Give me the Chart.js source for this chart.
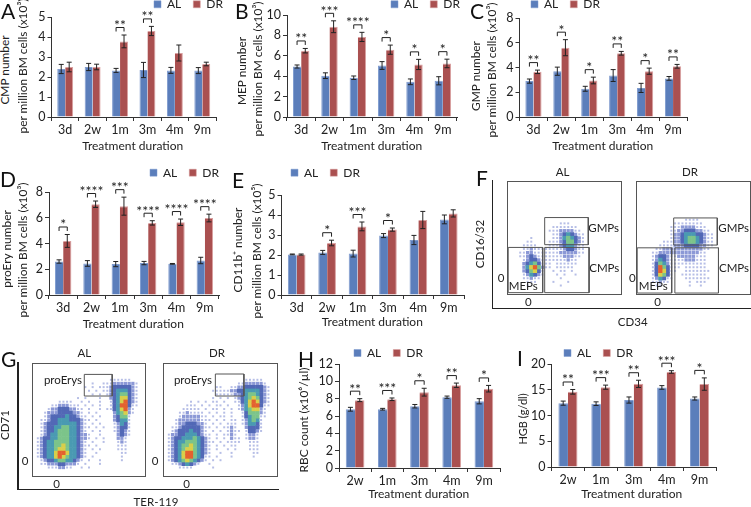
<!DOCTYPE html>
<html lang="en">
<head>
<meta charset="UTF-8" />
<title>Hematopoietic progenitors under DR</title>
<script src="https://cdn.jsdelivr.net/npm/chart.js"></script>
<style>
  html, body { margin: 0; padding: 0; background: #fff; }
  #page { position: relative; width: 751px; height: 507px; overflow: hidden; font-family: Lato, "Open Sans", sans-serif; color: #222; }
  #page canvas { position: absolute; }
  .lbl { position: absolute; transform: translate(-50%, -50%); font-size: 11.5px; white-space: nowrap; line-height: 1; }
  .rot { transform: translate(-50%, -50%) rotate(-90deg); }
  .letter { position: absolute; transform: translateY(-50%); font-size: 21px; line-height: 1; color: #111; }
  .ax { position: absolute; background: #222; }
  .frame { position: absolute; box-sizing: border-box; border: 1px solid #555; }
</style>
</head>
<body>
<div id="page"></div>
<script>
const times6 = ['3d', '2w', '1m', '3m', '4m', '9m'];
const times5 = ['2w', '1m', '3m', '4m', '9m'];

const cmpAL = [2.4, 2.5, 2.33, 2.35, 2.33, 2.32];
const cmpDR = [2.5, 2.5, 3.78, 4.3, 3.2, 2.65];
const cmpALErr = [0.23, 0.18, 0.1, 0.38, 0.15, 0.15];
const cmpDRErr = [0.24, 0.14, 0.32, 0.23, 0.4, 0.09];
const cmpSig = ['', '', '**', '**', '', ''];

const mepAL = [4.95, 4.05, 3.85, 5.05, 3.45, 3.55];
const mepDR = [6.5, 8.85, 7.85, 6.6, 5.15, 5.25];
const mepALErr = [0.15, 0.28, 0.17, 0.38, 0.28, 0.4];
const mepDRErr = [0.22, 0.58, 0.45, 0.45, 0.5, 0.42];
const mepSig = ['**', '***', '****', '*', '*', '*'];

const gmpAL = [2.9, 3.7, 2.28, 3.35, 2.35, 3.12];
const gmpDR = [3.65, 5.6, 2.95, 5.15, 3.7, 4.1];
const gmpALErr = [0.17, 0.33, 0.2, 0.48, 0.37, 0.15];
const gmpDRErr = [0.14, 0.65, 0.27, 0.15, 0.25, 0.15];
const gmpSig = ['**', '*', '*', '**', '*', '**'];

const eryAL = [2.6, 2.45, 2.4, 2.48, 2.42, 2.68];
const eryDR = [4.2, 7.05, 6.9, 5.6, 5.65, 5.98];
const eryALErr = [0.13, 0.22, 0.2, 0.13, 0.03, 0.25];
const eryDRErr = [0.5, 0.25, 0.7, 0.17, 0.25, 0.3];
const erySig = ['*', '****', '***', '****', '****', '****'];

const cd11AL = [2.03, 2.13, 2.07, 2.97, 2.75, 3.78];
const cd11DR = [2.02, 2.6, 3.43, 3.27, 3.75, 4.08];
const cd11ALErr = [0.02, 0.1, 0.17, 0.1, 0.23, 0.22];
const cd11DRErr = [0.03, 0.14, 0.22, 0.08, 0.43, 0.18];
const cd11Sig = ['', '*', '***', '*', '', ''];

const rbcAL = [6.78, 6.78, 7.13, 8.17, 7.7];
const rbcDR = [7.83, 7.93, 8.75, 9.55, 9.15];
const rbcALErr = [0.22, 0.1, 0.2, 0.13, 0.3];
const rbcDRErr = [0.17, 0.15, 0.45, 0.25, 0.38];
const rbcSig = ['**', '***', '*', '**', '*'];

const hgbAL = [12.4, 12.3, 13.0, 15.45, 13.3];
const hgbDR = [14.6, 15.5, 16.15, 18.45, 16.1];
const hgbALErr = [0.4, 0.35, 0.6, 0.35, 0.3];
const hgbDRErr = [0.45, 0.4, 0.7, 0.25, 1.2];
const hgbSig = ['**', '***', '**', '***', '*'];

// flow plots: density, one digit per cell (0 empty .. 7 red)
const flowF_AL = [
  '', '', '', '', '', '', '', '', '', '',
  '0000000000000111',
  '000000000001111111',
  '00000000001112222110',
  '00000000000112343211',
  '00000100000112454321',
  '00001100001112355321',
  '00011110001112344211',
  '00011211111111233211',
  '00112211111112222211',
  '00112321111111222110',
  '00012332111111121100',
  '00023453111011111100',
  '00024675211011111000',
  '00023563100101101000',
  '00012432100010100100',
  '00011211000001000000',
  '00001110000100010000',
  '0000100000000100'
];
const flowF_DR = [
  '', '', '', '', '', '', '', '', '',
  '0000000000001111',
  '00000000011111111',
  '0000000011122221110',
  '00000000112233322110',
  '00000000122344433211',
  '00000000122345543211',
  '00000011122345543211',
  '00000111122233332211',
  '00001122222222222110',
  '00011222222222221100',
  '00012332112222211100',
  '00012432111122211100',
  '00013542111111111100',
  '00013753111011111100',
  '00013763110011111110',
  '00013653100111111100',
  '00012431100011111110',
  '00011211000001011100',
  '0000110000000100100'
];
const flowG_AL = [
  '', '', '',
  '000000000000000000001111110',
  '00000000000000010011122222210',
  '00000000000001010111233333210',
  '00000000000000101011234443210',
  '00000000000000010101234553210',
  '00000000000101000100234663210',
  '00000011110010100100134673210',
  '00001122211101010100134773110',
  '00012233322110100101134672100',
  '00122233332210101000024562100',
  '00123333433211010100023551000',
  '01123344433321101000023441000',
  '01233344444321010100012431000',
  '01233445544321101010012331000',
  '01233455544321010100012321000',
  '01234455544322100100002321000',
  '12334455544322101010002210000',
  '12344555544321010010001210000',
  '12344556544321101000001110000',
  '12344566544321010100001110000',
  '12344677644321001000000110000',
  '12344676544321010000000100000',
  '01233455443210100100000100000',
  '01122233222101000100000000000',
  '00011122110010100000000000000'
];
const flowG_DR = [
  '', '', '',
  '00000000000000000000011111000',
  '00000000000000000001122222100',
  '00000000000001100112233333210',
  '00000000000011111223344443210',
  '00000000000001111122345543210',
  '00000000000010101012345653210',
  '00000010101011010011346763210',
  '00000111010101101001246773110',
  '00001111101011010101245662100',
  '00011211110101010100135552100',
  '00012222211010110100134551100',
  '00122222211101010110124541000',
  '00122333221010101110124431000',
  '01123333321101011210023331000',
  '01233343321010101211013321000',
  '12233444321101011210012210000',
  '12334445432101010211012210000',
  '12344555432110101111001110000',
  '12345565432101010110001110000',
  '12345665432101001010001110000',
  '12346775432100100100000110000',
  '12346775431101000100000100000',
  '12345654321010100000000000000',
  '01123432100100000000000000000',
  '00011110000010000000000000000'
];
// gates as [x0, y0, x1, y1] in density cells
const gatesF_AL = [[9.5, 9.3, 20.5, 16.2], [9.5, 16.9, 20.7, 28.4], [0.3, 16.9, 9, 28.4]];
const gatesF_DR = [[9.5, 9.4, 20.5, 16.3], [9.8, 17, 20.8, 28.5], [0.3, 17, 9, 28.5]];
const gatesG_AL = [[13.3, 2.9, 20.4, 8.4]];
const gatesG_DR = [[13.2, 2.8, 20.4, 8.4]];

const AL_COLOR = '#5b7ebb';
const DR_COLOR = '#aa5050';
const densityColors = [null, 'rgba(110,125,205,.5)', 'rgba(100,118,200,.75)', '#5268b6', '#4a9ab2', '#7cc48a', '#d8cf4a', '#e4612f'];
const densityRadius = [0, 1.4, 2.3, 3, 3, 3, 3, 3];

const page = document.getElementById('page');

Chart.defaults.font.family = 'Lato, "Open Sans", sans-serif';
Chart.defaults.font.size = 12;
Chart.defaults.color = '#222';
Chart.defaults.animation = false;

const LEGEND_PAD = 12;
const LEGEND_FONT = 12;
const EXTRA_RIGHT = 34;

// chart.js has no free legend position, so move it after layout
const legendMover = {
  id: 'legendMover',
  afterLayout(chart, args, opts) {
    const lg = chart.legend;
    lg.left = opts.x - chart.canvas.offsetLeft - LEGEND_PAD;
    lg.right = 9999;
    lg.top = opts.y - chart.canvas.offsetTop - LEGEND_PAD - LEGEND_FONT / 2;
  }
};

const errorsAndStars = {
  id: 'errorsAndStars',
  afterDatasetsDraw(chart, args, opts) {
    const ctx = chart.ctx;
    const y = chart.scales.y;
    ctx.save();
    ctx.strokeStyle = '#222';
    ctx.fillStyle = '#222';
    ctx.lineWidth = 1;
    const centers = [];
    [0, 1].forEach(d => {
      const meta = chart.getDatasetMeta(d);
      const vals = chart.data.datasets[d].data;
      const errs = opts.errors[d];
      centers[d] = meta.data.map(b => b.x);
      meta.data.forEach((bar, i) => {
        const hi = y.getPixelForValue(vals[i] + errs[i]);
        const lo = y.getPixelForValue(vals[i] - errs[i]);
        ctx.beginPath();
        ctx.moveTo(bar.x, hi); ctx.lineTo(bar.x, lo);
        ctx.moveTo(bar.x - 2.5, hi); ctx.lineTo(bar.x + 2.5, hi);
        ctx.moveTo(bar.x - 2.5, lo); ctx.lineTo(bar.x + 2.5, lo);
        ctx.stroke();
      });
    });
    ctx.textAlign = 'center';
    ctx.textBaseline = 'alphabetic';
    ctx.font = '14px Lato, sans-serif';
    opts.sig.forEach((s, i) => {
      if (!s) return;
      const top = y.getPixelForValue(chart.data.datasets[1].data[i] + opts.errors[1][i]);
      const y0 = top - 3.5;
      const y1 = y0 - 4;
      ctx.beginPath();
      ctx.moveTo(centers[0][i], y0);
      ctx.lineTo(centers[0][i], y1);
      ctx.lineTo(centers[1][i], y1);
      ctx.lineTo(centers[1][i], y0);
      ctx.stroke();
      ctx.fillText(s, (centers[0][i] + centers[1][i]) / 2, y1 + 2.5);
    });
    ctx.restore();
  }
};

function barPanel(p) {
  const canvasLeft = Math.round(p.left - 32);
  const legendH = LEGEND_FONT + 2 * LEGEND_PAD;
  const xH = 37;
  const cv = document.createElement('canvas');
  cv.width = p.right + EXTRA_RIGHT - canvasLeft;
  cv.height = p.bottom - p.top + legendH + xH;
  cv.style.left = canvasLeft + 'px';
  cv.style.top = (p.top - legendH) + 'px';
  page.appendChild(cv);
  new Chart(cv, {
    type: 'bar',
    data: {
      labels: p.labels,
      datasets: [
        { label: 'AL', data: p.al, backgroundColor: AL_COLOR, borderColor: '#7f9bce', borderWidth: { right: 0, left: 1, top: 1, bottom: 0 } },
        { label: 'DR', data: p.dr, backgroundColor: DR_COLOR, borderColor: '#d9a0a0', borderWidth: { right: 1, left: 0, top: 1, bottom: 0 } }
      ]
    },
    options: {
      responsive: false,
      layout: { padding: { right: EXTRA_RIGHT } },
      datasets: { bar: { categoryPercentage: 0.58, barPercentage: 1 } },
      scales: {
        x: {
          afterFit: s => { s.height = xH; },
          grid: { drawOnChartArea: false, offset: true, tickLength: 4, color: '#333' },
          border: { color: '#333' },
          ticks: { autoSkip: false, maxRotation: 0, padding: 1, color: '#222', font: { size: 12.5 } }
        },
        y: {
          min: 0, max: p.max,
          afterFit: s => { s.width = p.left - canvasLeft; },
          grid: { drawOnChartArea: false, tickLength: 4, color: '#333' },
          border: { color: '#333' },
          ticks: { stepSize: p.step, autoSkip: false, padding: 2, color: '#222', font: { size: 12.5 } }
        }
      },
      plugins: {
        title: { display: false },
        tooltip: { enabled: false },
        legend: {
          position: 'top', align: 'start',
          labels: { boxWidth: 7, boxHeight: 7, padding: LEGEND_PAD, color: '#222', font: { size: LEGEND_FONT } }
        },
        legendMover: { x: p.legendX, y: p.legendY },
        errorsAndStars: { errors: [p.alErr, p.drErr], sig: p.sig }
      }
    },
    plugins: [legendMover, errorsAndStars]
  });
}

barPanel({ labels: times6, al: cmpAL, dr: cmpDR, alErr: cmpALErr, drErr: cmpDRErr, sig: cmpSig,
  left: 51.5, right: 216, top: 19, bottom: 117.5, max: 5, step: 1, legendX: 154, legendY: 4.3 });
barPanel({ labels: times6, al: mepAL, dr: mepDR, alErr: mepALErr, drErr: mepDRErr, sig: mepSig,
  left: 287, right: 457, top: 17, bottom: 117.5, max: 10, step: 2, legendX: 391, legendY: 4.3 });
barPanel({ labels: times6, al: gmpAL, dr: gmpDR, alErr: gmpALErr, drErr: gmpDRErr, sig: gmpSig,
  left: 519.5, right: 687, top: 20, bottom: 117.5, max: 8, step: 2, legendX: 531, legendY: 4.3 });
barPanel({ labels: times6, al: eryAL, dr: eryDR, alErr: eryALErr, drErr: eryDRErr, sig: erySig,
  left: 49, right: 219, top: 194, bottom: 295.5, max: 8, step: 2, legendX: 150, legendY: 172.7 });
barPanel({ labels: times6, al: cd11AL, dr: cd11DR, alErr: cd11ALErr, drErr: cd11DRErr, sig: cd11Sig,
  left: 281.5, right: 464, top: 197, bottom: 295, max: 5, step: 1, legendX: 291, legendY: 172.7 });
barPanel({ labels: times5, al: rbcAL, dr: rbcDR, alErr: rbcALErr, drErr: rbcDRErr, sig: rbcSig,
  left: 339, right: 500, top: 365.5, bottom: 467.5, max: 12, step: 2, legendX: 354, legendY: 353 });
barPanel({ labels: times5, al: hgbAL, dr: hgbDR, alErr: hgbALErr, drErr: hgbDRErr, sig: hgbSig,
  left: 551.5, right: 716, top: 365.5, bottom: 466.5, max: 20, step: 5, legendX: 564, legendY: 353 });

const GRID_SIZE = 29;

function gridPoints(rows, level) {
  const pts = [];
  rows.forEach((row, r) => {
    [...row].forEach((ch, c) => {
      if (Number(ch) === level) pts.push({ x: c + 0.5, y: r + 0.5 });
    });
  });
  return pts;
}

function flowChart(x, y, w, h, sets, blur) {
  const cv = document.createElement('canvas');
  cv.width = w;
  cv.height = h;
  cv.style.left = x + 'px';
  cv.style.top = y + 'px';
  if (blur) cv.style.filter = 'blur(' + blur + 'px)';
  page.appendChild(cv);
  new Chart(cv, {
    type: 'scatter',
    data: { datasets: sets },
    options: {
      responsive: false,
      layout: { padding: 0 },
      scales: {
        x: { display: false, min: 0, max: GRID_SIZE },
        y: { display: false, min: 0, max: GRID_SIZE, reverse: true }
      },
      plugins: { legend: { display: false }, tooltip: { enabled: false } }
    }
  });
}

function flowPanel(rows, gates, x, y, w, h) {
  const density = [];
  for (let lv = 7; lv >= 1; lv--) {
    density.push({
      data: gridPoints(rows, lv),
      pointStyle: 'rect', pointRadius: densityRadius[lv], pointBorderWidth: 0,
      pointBackgroundColor: densityColors[lv], borderWidth: 0
    });
  }
  flowChart(x, y, w, h, density, 0.6);
  const lines = gates.map(g => ({
    data: [{ x: g[0], y: g[1] }, { x: g[2], y: g[1] }, { x: g[2], y: g[3] }, { x: g[0], y: g[3] }, { x: g[0], y: g[1] }],
    showLine: true, pointRadius: 0, borderColor: '#555', borderWidth: 1
  }));
  flowChart(x, y, w, h, lines, 0);
  const frame = document.createElement('div');
  frame.className = 'frame';
  frame.style.cssText = `left:${x}px;top:${y}px;width:${w}px;height:${h}px`;
  page.appendChild(frame);
}

flowPanel(flowF_AL, gatesF_AL, 507, 181, 115, 114);
flowPanel(flowF_DR, gatesF_DR, 636, 181, 115, 114);
flowPanel(flowG_AL, gatesG_AL, 32, 363, 114, 114);
flowPanel(flowG_DR, gatesG_DR, 163, 363, 115, 114);

// axis titles and flow labels, plain page text
function label(text, x, y, cls, size) {
  const el = document.createElement('div');
  el.className = cls || 'lbl';
  el.textContent = text;
  el.style.left = x + 'px';
  el.style.top = y + 'px';
  if (size) el.style.fontSize = size + 'px';
  page.appendChild(el);
}
function axisLine(x, y, w, h) {
  const el = document.createElement('div');
  el.className = 'ax';
  el.style.cssText = `left:${x}px;top:${y}px;width:${w}px;height:${h}px`;
  page.appendChild(el);
}

[[132.7, 145.7], [371.7, 145.7], [602.7, 145.7], [133.3, 323.7], [372.3, 322.3], [418.7, 494.3], [631.7, 494.3]]
  .forEach(t => label('Treatment duration', t[0], t[1], 'lbl', 12));

[['CMP number', 4.7, 70], ['per million  BM cells (x10³)', 23, 66], ['MEP number', 241.7, 71], ['per million  BM cells (x10³)', 258.3, 69],
 ['GMP number', 476, 76], ['per million BM cells (x10³)', 492.3, 70], ['proEry number', 6.7, 249], ['per million BM cells (x10³)', 23.3, 250],
 ['CD11b⁺ number', 238.3, 250], ['per million BM cells (x10⁵)', 256.7, 251], ['RBC count (x10⁶/µl)', 304, 420], ['HGB (g/dl)', 521.7, 419]]
  .forEach(t => label(t[0], t[1], t[2], 'lbl rot', t[0].startsWith('HGB') ? 11 : 11.9));

axisLine(491.5, 180, 1.5, 128.5);
axisLine(491.5, 307.5, 259.5, 1.5);
axisLine(17, 361.5, 1.5, 128);
axisLine(17, 488.5, 262, 1.5);

[['AL', 562.7, 172], ['DR', 690, 172], ['CD34', 632.7, 321.7], ['AL', 84.3, 353.3], ['DR', 217, 353.3],
 ['0', 501, 278.3], ['0', 528.3, 302.3], ['0', 632.3, 278.3], ['0', 657.7, 302.3],
 ['proErys', 63, 380], ['proErys', 193, 380], ['0', 25, 461], ['0', 56.7, 484], ['0', 155, 461], ['0', 186.7, 484],
 ['TER-119', 156, 502], ['GMPs', 603.7, 227.7], ['CMPs', 604.3, 268.3], ['MEPs', 523.3, 286],
 ['GMPs', 733.7, 227.7], ['CMPs', 734, 268.3], ['MEPs', 653.3, 286]].forEach(t => label(t[0], t[1], t[2]));
label('CD16/32', 480, 244, 'lbl rot');
label('CD71', 4.5, 425, 'lbl rot');

[['A', 1, 10], ['B', 235, 10], ['C', 470, 10], ['D', 0, 178], ['E', 232, 179], ['F', 476, 177],
 ['G', 1, 358], ['H', 298, 358], ['I', 517, 357]].forEach(t => label(t[0], t[1], t[2], 'letter'));
</script>
</body>
</html>
